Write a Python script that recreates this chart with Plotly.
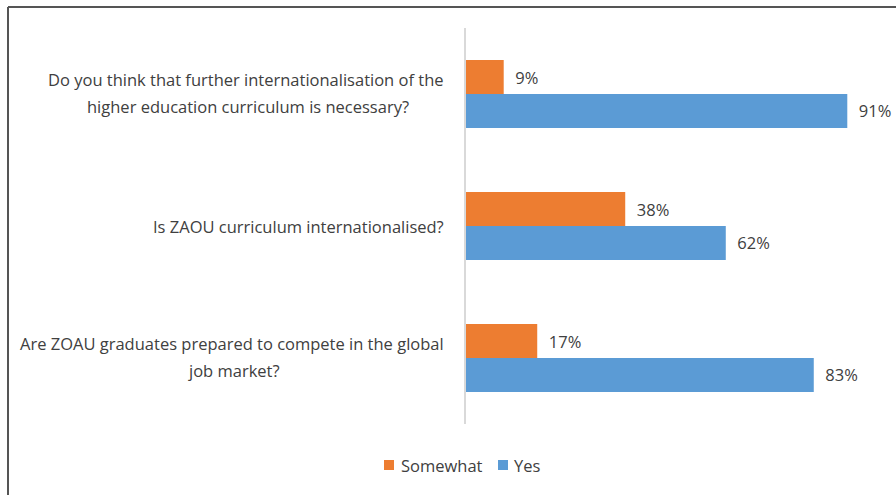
import plotly.graph_objects as go

categories = [
    "Do you think that further internationalisation of the<br>higher education curriculum is necessary?",
    "Is ZAOU curriculum internationalised?",
    "Are ZOAU graduates prepared to compete in the global<br>job market?",
]
series_names = ["Somewhat", "Yes"]
somewhat = [9, 38, 17]
yes = [91, 62, 83]
colors = ["#ED7D31", "#5B9BD5"]

W, H = 896, 495
L, R, T, B = 466, 885, 28, 424

def px_x(px):
    return (px - L) / (R - L)

def px_y(py):
    return (B - py) / (B - T)

font = "Open Sans"
fs = 16.5
txtcol = "#404040"
pad = "\u00a0\u00a0"

fig = go.Figure()
for name, vals, col in zip(series_names, [somewhat, yes], colors):
    fig.add_trace(go.Bar(
        y=categories, x=vals, name=name, orientation="h",
        marker=dict(color=col, line=dict(width=0)),
        text=[f"{pad}{v}%" for v in vals], textposition="outside",
        textfont=dict(family=font, size=fs, color=txtcol), cliponaxis=False,
        showlegend=False, hoverinfo="skip",
    ))

# category labels (centered lines, right-aligned block)
label_right = 446
first_line_width = {0: 396, 2: 424}
annotations = []
for i, c in enumerate(categories):
    lines = c.split("<br>")
    if len(lines) == 1:
        annotations.append(dict(
            x=px_x(label_right), xref="paper", y=c, yref="y", text=c, showarrow=False,
            xanchor="right", yanchor="middle", font=dict(family=font, size=fs, color=txtcol)))
    else:
        annotations.append(dict(
            x=px_x(label_right), xref="paper", y=c, yref="y", text=lines[0], showarrow=False,
            xanchor="right", yanchor="middle", yshift=15,
            font=dict(family=font, size=fs, color=txtcol)))
        annotations.append(dict(
            x=px_x(label_right - first_line_width[i] / 2), xref="paper", y=c, yref="y",
            text=lines[1], showarrow=False, xanchor="center", yanchor="middle", yshift=-12,
            font=dict(family=font, size=fs, color=txtcol)))

shapes = [
    dict(type="line", xref="paper", yref="paper", x0=px_x(8), x1=px_x(8),
         y0=px_y(7), y1=px_y(500), line=dict(color="#555555", width=2)),
    dict(type="line", xref="paper", yref="paper", x0=px_x(8), x1=px_x(900),
         y0=px_y(7), y1=px_y(7), line=dict(color="#555555", width=2)),
]

# manual legend
legend_items = [(384, 399), (498, 512)]
for (sx, tx), name, col in zip(legend_items, series_names, colors):
    shapes.append(dict(type="rect", xref="paper", yref="paper",
                       x0=px_x(sx), x1=px_x(sx + 10), y0=px_y(460), y1=px_y(470),
                       fillcolor=col, line=dict(width=0)))
    annotations.append(dict(x=px_x(tx), xref="paper", y=px_y(465), yref="paper",
                            text=name, showarrow=False, xanchor="left", yanchor="middle",
                            font=dict(family=font, size=fs, color=txtcol)))

fig.update_layout(
    width=W, height=H,
    margin=dict(l=L, r=W - R, t=T, b=H - B),
    paper_bgcolor="white", plot_bgcolor="white",
    barmode="group", bargap=0.485, bargroupgap=0,
    xaxis=dict(range=[0, 100], showgrid=False, showticklabels=False,
               zeroline=False, showline=False, ticks=""),
    yaxis=dict(autorange="reversed", showticklabels=False, showgrid=False,
               showline=True, linecolor="#d9d9d9", linewidth=1.5, ticks=""),
    annotations=annotations,
    shapes=shapes,
    showlegend=False,
)

fig.write_html("out.html", config={"displayModeBar": False},
               post_script="document.body.style.margin='0';")
